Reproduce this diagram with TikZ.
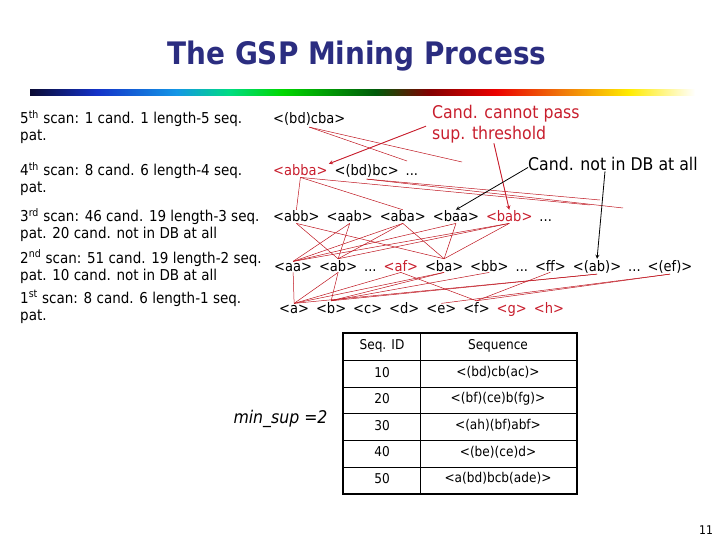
\documentclass[tikz,border=0pt]{standalone}
\usepackage{fontspec}
\setmainfont{DejaVu Sans Condensed}
\usetikzlibrary{positioning}

\definecolor{titleblue}{RGB}{43,45,128}
\definecolor{seqred}{RGB}{200,30,45}
\definecolor{linkred}{RGB}{190,20,30}
\definecolor{barnavy}{RGB}{10,10,50}
\definecolor{barblue}{RGB}{20,50,200}
\definecolor{barcyan}{RGB}{20,150,230}
\definecolor{barspring}{RGB}{0,220,130}
\definecolor{bargreen}{RGB}{0,215,0}
\definecolor{bardkgreen}{RGB}{0,90,10}
\definecolor{bardkred}{RGB}{130,0,0}
\definecolor{barred}{RGB}{235,0,0}
\definecolor{barorange}{RGB}{240,120,10}
\definecolor{baryellow}{RGB}{255,235,0}

\pgfdeclarehorizontalshading{rainbow}{100bp}{color(0bp)=(barnavy); color(25bp)=(barnavy);
  color(30bp)=(barblue); color(36bp)=(barcyan); color(40bp)=(barspring); color(44bp)=(bargreen);
  color(51bp)=(bardkgreen); color(55bp)=(bardkred); color(60bp)=(barred); color(65bp)=(barorange);
  color(70bp)=(baryellow); color(75bp)=(white); color(100bp)=(white)}

\tikzset{
  scan/.style={anchor=base west, inner sep=0pt, font=\fontsize{15}{17}\selectfont},
  seq/.style={anchor=base west, inner sep=1pt, font=\fontsize{14.5}{16}\selectfont},
  redseq/.style={seq, text=seqred},
  link/.style={draw=linkred, line width=0.5pt},
  cell/.style={font=\fontsize{13.5}{15}\selectfont},
  node distance=4.6pt,
}

\begin{document}
\begin{tikzpicture}[x=1pt, y=-1pt, >=stealth]
\useasboundingbox (0,0) rectangle (720,540);

% Title and bar
\node[font=\bfseries\fontsize{31}{34}\selectfont, text=titleblue] (title) at (357,56) {The GSP Mining Process};
\shade[shading=rainbow] (30,90) rectangle (695,96);

% Scan descriptions
\node[scan] (scan5) at (20,124) {5\textsuperscript{th} scan: 1 cand. 1 length-5 seq.};
\node[scan] (scan5b) at (20,141) {pat.};
\node[scan] (scan4) at (20,176) {4\textsuperscript{th} scan: 8 cand. 6 length-4 seq.};
\node[scan] (scan4b) at (20,193) {pat.};
\node[scan] (scan3) at (20,222) {3\textsuperscript{rd} scan: 46 cand. 19 length-3 seq.};
\node[scan] (scan3b) at (20,239) {pat. 20 cand. not in DB at all};
\node[scan] (scan2) at (20,263) {2\textsuperscript{nd} scan: 51 cand. 19 length-2 seq.};
\node[scan] (scan2b) at (20,280) {pat. 10 cand. not in DB at all};
\node[scan] (scan1) at (20,303) {1\textsuperscript{st} scan: 8 cand. 6 length-1 seq.};
\node[scan] (scan1b) at (20,320) {pat.};

% Length-5 and length-4
\node[seq] (q5) at (272,124) {<(bd)cba>};
\node[redseq] (q4a) at (272,176) {<abba>};
\node[seq, base right=of q4a] (q4b) {<(bd)bc>};
\node[seq, base right=of q4b] (q4c) {...};

% Length-3
\node[seq] (q3abb) at (272,222) {<abb>};
\node[seq, base right=of q3abb] (q3aab) {<aab>};
\node[seq, base right=of q3aab] (q3aba) {<aba>};
\node[seq, base right=of q3aba] (q3baa) {<baa>};
\node[redseq, base right=of q3baa] (q3bab) {<bab>};
\node[seq, base right=of q3bab] (q3dots) {...};

% Length-2
\node[seq] (q2aa) at (273,271) {<aa>};
\node[seq, base right=of q2aa] (q2ab) {<ab>};
\node[seq, base right=of q2ab] (q2d1) {...};
\node[redseq, base right=of q2d1] (q2af) {<af>};
\node[seq, base right=of q2af] (q2ba) {<ba>};
\node[seq, base right=of q2ba] (q2bb) {<bb>};
\node[seq, base right=of q2bb] (q2d2) {...};
\node[seq, base right=of q2d2] (q2ff) {<ff>};
\node[seq, base right=of q2ff] (q2abs) {<(ab)>};
\node[seq, base right=of q2abs] (q2d3) {...};
\node[seq, base right=of q2d3] (q2efs) {<(ef)>};

% Length-1
\node[seq] (q1a) at (278,313) {<a>};
\node[seq, base right=of q1a] (q1b) {<b>};
\node[seq, base right=of q1b] (q1c) {<c>};
\node[seq, base right=of q1c] (q1d) {<d>};
\node[seq, base right=of q1d] (q1e) {<e>};
\node[seq, base right=of q1e] (q1f) {<f>};
\node[redseq, base right=of q1f] (q1g) {<g>};
\node[redseq, base right=of q1g] (q1h) {<h>};

% Free ends of the upper links
\coordinate (u1) at (407,161);
\coordinate (u2) at (462,162);
\coordinate (u3) at (590,205);
\coordinate (u4) at (623,208);
\coordinate (u5) at (600,200);

% Links 5 -> 4 -> 3
\draw[link] (q5.south) -- (u1);
\draw[link] (q5.south) -- (u2);
\draw[link] (q4a.south) -- (q3abb.north);
\draw[link] (q4a.south) -- (q3aba.north);
\draw[link] (q4a.south) -- (u3);
\draw[link] (q4b.south) -- (u4);
\draw[link] (q4b.south) -- (u5);

% Links 3 -> 2
\draw[link] (q3abb.south) -- (q2ab.north);
\draw[link] (q3abb.south) -- (q2ba.north);
\draw[link] (q3aab.south) -- (q2aa.north);
\draw[link] (q3aab.south) -- (q2ab.north);
\draw[link] (q3aba.south) -- (q2aa.north);
\draw[link] (q3aba.south) -- (q2ab.north);
\draw[link] (q3aba.south) -- (q2ba.north);
\draw[link] (q3baa.south) -- (q2ba.north);
\draw[link] (q3baa.south) -- (q2aa.north);
\draw[link] (q3bab.south) -- (q2aa.north);
\draw[link] (q3bab.south) -- (q2ab.north);
\draw[link] (q3bab.south) -- (q2ba.north);

% Links 2 -> 1
\draw[link] (q2aa.south) -- (q1a.north);
\draw[link] (q2ab.south) -- (q1a.north);
\draw[link] (q2ab.south) -- (q1b.north);
\draw[link] (q2af.south) -- (q1a.north);
\draw[link] (q2af.south) -- (q1f.north);
\draw[link] (q2ba.south) -- (q1a.north);
\draw[link] (q2ba.south) -- (q1b.north);
\draw[link] (q2bb.south) -- (q1b.north);
\draw[link] (q2ff.south) -- (q1f.north);
\draw[link] (q2abs.south) -- (q1a.north);
\draw[link] (q2abs.south) -- (q1b.north);
\draw[link] (q2efs.south) -- (q1e.north);
\draw[link] (q2efs.south) -- (q1f.north);

% Notes
\node[anchor=north west, align=left, text=seqred, inner sep=0pt,
      font=\fontsize{17.5}{21}\selectfont] (cnp) at (432,105) {Cand. cannot pass\\sup. threshold};
\node[anchor=base west, inner sep=0pt, font=\fontsize{17.5}{19}\selectfont] (nodb) at (528,171) {Cand. not in DB at all};
\draw[->, draw=seqred, fill=seqred, line width=0.9pt] ([xshift=-6pt,yshift=-2pt]cnp.west) -- (q4a.north east);
\draw[->, draw=seqred, fill=seqred, line width=0.9pt] ([xshift=-12pt]cnp.south) -- (q3bab.north);
\draw[->, line width=0.8pt] ([yshift=-3pt]nodb.west) -- (q3baa.north);
\draw[->, line width=0.8pt] ([xshift=-8pt]nodb.south) -- (q2abs.north);

% Database table
\node[anchor=base west, font=\itshape\fontsize{17.5}{19}\selectfont] (minsup) at (230,423) {min\_sup =2};
\draw[line width=1.2pt] (343,333) rectangle (577,494);
\foreach \y in {360,387,413,440,467}
  \draw[line width=0.6pt] (343,\y) -- (577,\y);
\draw[line width=0.6pt] (420,333) -- (420,494);
\node[cell] (hid) at (382,346) {Seq. ID};
\node[cell] (hseq) at (498,346) {Sequence};
\foreach \id/\sq [count=\i] in {10/{<(bd)cb(ac)>}, 20/{<(bf)(ce)b(fg)>}, 30/{<(ah)(bf)abf>},
                                 40/{<(be)(ce)d>}, 50/{<a(bd)bcb(ade)>}} {
  \node[cell] (id\i) at (382,{346+26.5*\i}) {\id};
  \node[cell] (sq\i) at (498,{346+26.5*\i}) {\sq};
}

% Page number
\node[font=\fontsize{12}{14}\selectfont] (page) at (706,530) {11};
\end{tikzpicture}
\end{document}
